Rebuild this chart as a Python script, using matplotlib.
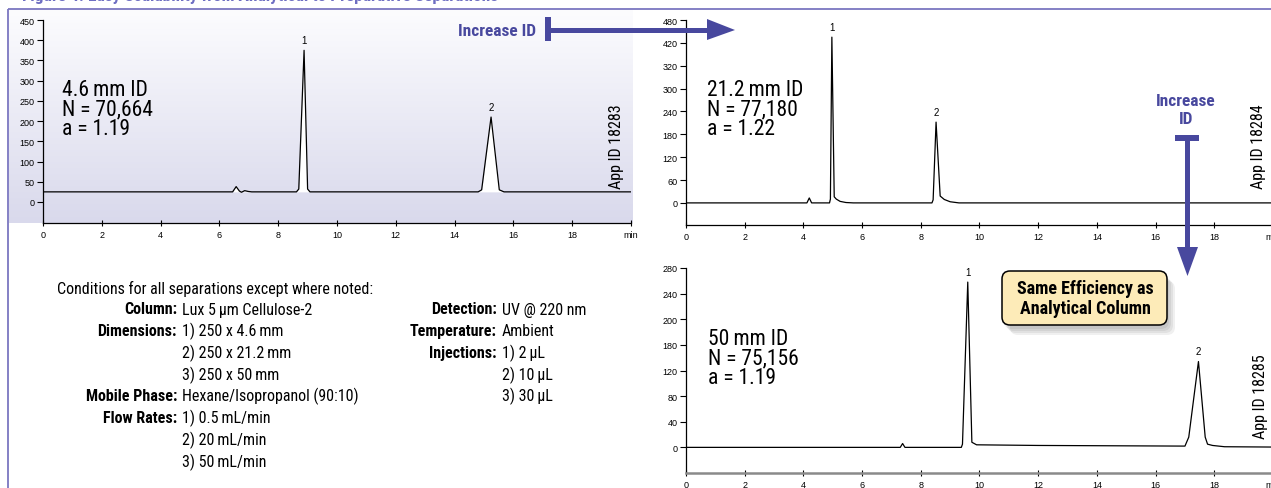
import numpy as np
import matplotlib.pyplot as plt
from matplotlib import font_manager
from matplotlib.colors import LinearSegmentedColormap
from matplotlib.patches import Rectangle, Polygon, FancyBboxPatch

# chromatogram traces (time in min, signal)
time_46 = [0, 6.45, 6.57, 6.68, 6.75, 6.86, 6.98, 7.1, 8.62, 8.70, 8.88, 9.00, 9.08,
           14.80, 14.92, 15.24, 15.52, 15.68, 20]
sig_46 = [25, 25, 38, 27, 24, 28, 26, 25, 25, 32, 375, 32, 25,
          25, 30, 210, 30, 25, 25]

time_212 = [0, 4.12, 4.20, 4.28, 4.89, 4.92, 4.97, 5.05, 5.12, 5.25, 5.45, 5.7,
            8.38, 8.42, 8.52, 8.66, 8.80, 9.00, 9.3, 20]
sig_212 = [0, 0, 13, 0, 0, 10, 435, 16, 10, 4, 1, 0,
           0, 8, 212, 18, 9, 3, 0, 0]

time_50 = [0, 7.30, 7.38, 7.46, 9.38, 9.42, 9.60, 9.74, 9.90, 12.0, 17.0, 17.13,
           17.46, 17.69, 17.77, 17.94, 18.35, 20]
sig_50 = [0, 0, 6, 0, 0, 5, 258, 8, 4, 3, 2, 16,
          134, 16, 5, 3, 1, 0.5]

peaks_46 = [(8.88, 375), (15.24, 210)]
peaks_212 = [(4.97, 435), (8.52, 212)]
peaks_50 = [(9.60, 258), (17.46, 134)]

yticks_46 = [0, 50, 100, 150, 200, 250, 300, 350, 400, 450]
yticks_212 = [0, 60, 120, 180, 240, 300, 360, 420, 480]
ylabels_212 = ['0', '60', '120', '180', '240', '300', '320', '420', '480']
yticks_50 = [0, 40, 80, 120, 160, 200, 240, 280]
ylabels_50 = ['0', '40', '80', '120', '180', '200', '240', '280']

info_46 = '4.6\u2009mm ID\nN = 70,664\na = 1.19'
info_212 = '21.2\u2009mm ID\nN = 77,180\na = 1.22'
info_50 = '50\u2009mm ID\nN = 75,156\na = 1.19'

cond_left = [('Column:', 'Lux 5\u2009µm Cellulose-2'),
             ('Dimensions:', '1) 250 x 4.6\u2009mm'),
             ('', '2) 250 x 21.2\u2009mm'),
             ('', '3) 250 x 50\u2009mm'),
             ('Mobile Phase:', 'Hexane/Isopropanol (90:10)'),
             ('Flow Rates:', '1) 0.5\u2009mL/min'),
             ('', '2) 20\u2009mL/min'),
             ('', '3) 50\u2009mL/min')]
cond_right = [('Detection:', 'UV @ 220 nm'),
              ('Temperature:', 'Ambient'),
              ('Injections:', '1) 2\u2009µL'),
              ('', '2) 10\u2009µL'),
              ('', '3) 30\u2009µL')]

# pick a condensed sans that has a real bold face
ttf = font_manager.fontManager.ttflist
narrow = 'Liberation Sans'
for cand in ['Roboto Condensed', 'PT Sans Narrow', 'IBM Plex Sans Condensed',
             'Fira Sans Condensed', 'Liberation Sans Narrow', 'Asap Condensed',
             'Barlow Semi Condensed']:
    ws = [f.weight for f in ttf if f.name == cand and f.style == 'normal']
    ws = [w if isinstance(w, int) else (700 if w == 'bold' else 400) for w in ws]
    if 400 in ws and any(w >= 600 for w in ws):
        narrow = cand
        break
plain = 'Liberation Sans'
plt.rcParams['font.family'] = [narrow, 'DejaVu Sans']

W, H = 1271, 489
PURPLE = '#48489e'
fig = plt.figure(figsize=(W / 100, H / 100), dpi=100)


def box(left, top, right, bottom):
    return [left / W, 1 - bottom / H, (right - left) / W, (bottom - top) / H]


# lavender gradient behind the analytical run
g = fig.add_axes(box(9, 11, 633, 224), zorder=0)
g.imshow(np.linspace(0, 1, 256)[:, None], aspect='auto',
         cmap=LinearSegmentedColormap.from_list('lav', ['#fcfcfe', '#d9d9ec']))
g.axis('off')


def chromatogram(rect, t, s, ylim, yticks, ylabels, peaks, spine_col='black', spine_w=0.9,
                 fill_base=None):
    ax = fig.add_axes(rect, zorder=2)
    ax.patch.set_alpha(0)
    if fill_base is not None:
        ax.fill_between(t, fill_base, s, color='white', lw=0)
    ax.plot(t, s, color='black', lw=0.9)
    ax.set_xlim(0, 20)
    ax.set_ylim(*ylim)
    ax.set_xticks(range(0, 21, 2))
    ax.set_xticklabels([str(v) for v in range(0, 19, 2)] + ['min'], family=plain)
    ax.set_yticks(yticks)
    ax.set_yticklabels(ylabels, family=plain)
    for side in ['top', 'right']:
        ax.spines[side].set_visible(False)
    ax.spines['left'].set_linewidth(0.9)
    ax.spines['bottom'].set_color(spine_col)
    ax.spines['bottom'].set_linewidth(spine_w)
    ax.tick_params(axis='x', direction='inout', length=5, width=0.8, labelsize=6.5, pad=2.5)
    ax.tick_params(axis='y', direction='out', length=4, width=0.8, labelsize=6.5, pad=2)
    span = ylim[1] - ylim[0]
    for i, (px, py) in enumerate(peaks):
        ax.text(px, py + span * 0.025, str(i + 1), ha='center', va='bottom', fontsize=7,
                family=plain)
    return ax


chromatogram(box(43, 21, 631, 224), time_46, sig_46, (-52, 450), yticks_46,
             [str(v) for v in yticks_46], peaks_46, fill_base=25)
chromatogram(box(686, 21, 1273, 226), time_212, sig_212, (-58, 480), yticks_212,
             ylabels_212, peaks_212)
chromatogram(box(686, 269, 1273, 474), time_50, sig_50, (-40, 280), yticks_50,
             ylabels_50, peaks_50, spine_col='#8a8a8a', spine_w=1.8)

# overlay in pixel coordinates for the decorations
ov = fig.add_axes([0, 0, 1, 1], zorder=5)
ov.set_xlim(0, W)
ov.set_ylim(H, 0)
ov.axis('off')
ov.patch.set_alpha(0)

# frame and title (cut off at the top edge, as in the source)
ov.plot([8, W], [10, 10], color='#7b76c0', lw=1.3, solid_capstyle='butt')
ov.plot([8, 8], [10, H], color='#7b76c0', lw=1.3, solid_capstyle='butt')
ov.text(22, 1.5, 'Figure 4. Easy Scalability from Analytical to Preparative Separations',
        color='#6e6ec2', fontsize=12.5, weight='bold', va='baseline', ha='left')

# info blocks
for x, y, txt in [(62, 80, info_46), (707, 80, info_212), (708, 329, info_50)]:
    ov.text(x, y, txt, fontsize=15.5, va='top', ha='left', linespacing=0.92)

# app ids
for x, y, txt in [(617, 147, 'App ID 18283'), (1258, 147, 'App ID 18284'),
                  (1260, 397, 'App ID 18285')]:
    ov.text(x, y, txt, fontsize=11.5, rotation=90, ha='center', va='center')

# horizontal "Increase ID" arrow
ov.text(536, 31, 'Increase ID', color=PURPLE, fontsize=12.5, weight='bold',
        ha='right', va='center')
ov.add_patch(Rectangle((545, 18), 6, 24, color=PURPLE, lw=0))
ov.add_patch(Rectangle((548, 29), 161, 4.5, color=PURPLE, lw=0))
ov.add_patch(Polygon([(707, 20), (735, 31), (707, 41)], color=PURPLE, lw=0))

# vertical "Increase ID" arrow
ov.text(1186, 110, 'Increase\nID', color=PURPLE, fontsize=12.5, weight='bold',
        ha='center', va='center', linespacing=1.25)
ov.add_patch(Rectangle((1175, 136), 24, 5.5, color=PURPLE, lw=0))
ov.add_patch(Rectangle((1184.5, 138), 5, 112, color=PURPLE, lw=0))
ov.add_patch(Polygon([(1177, 248), (1198, 248), (1187.5, 277)], color=PURPLE, lw=0))

# callout with soft shadow
for k in range(4):
    ov.add_patch(FancyBboxPatch((1004 + 2 * k, 276 + 2 * k), 165, 54,
                                boxstyle='round,pad=0,rounding_size=8',
                                fc='black', ec='none', alpha=0.06))
ov.add_patch(FancyBboxPatch((1002, 272), 165, 54, boxstyle='round,pad=0,rounding_size=8',
                            fc='#fdebb8', ec='black', lw=1.1))
ov.text(1085, 299, 'Same Efficiency as\nAnalytical Column', fontsize=13, weight='bold',
        ha='center', va='center', linespacing=1.2)

# conditions
ov.text(57, 289, 'Conditions for all separations except where noted:', fontsize=11.5,
        ha='left', va='center')
for i, (lab, val) in enumerate(cond_left):
    y = 310 + 21.7 * i
    ov.text(177, y, lab, fontsize=11.5, weight='bold', ha='right', va='center')
    ov.text(182, y, val, fontsize=11.5, ha='left', va='center')
for i, (lab, val) in enumerate(cond_right):
    y = 310 + 21.7 * i
    ov.text(497, y, lab, fontsize=11.5, weight='bold', ha='right', va='center')
    ov.text(502, y, val, fontsize=11.5, ha='left', va='center')

fig.savefig('out.png', dpi=100)
